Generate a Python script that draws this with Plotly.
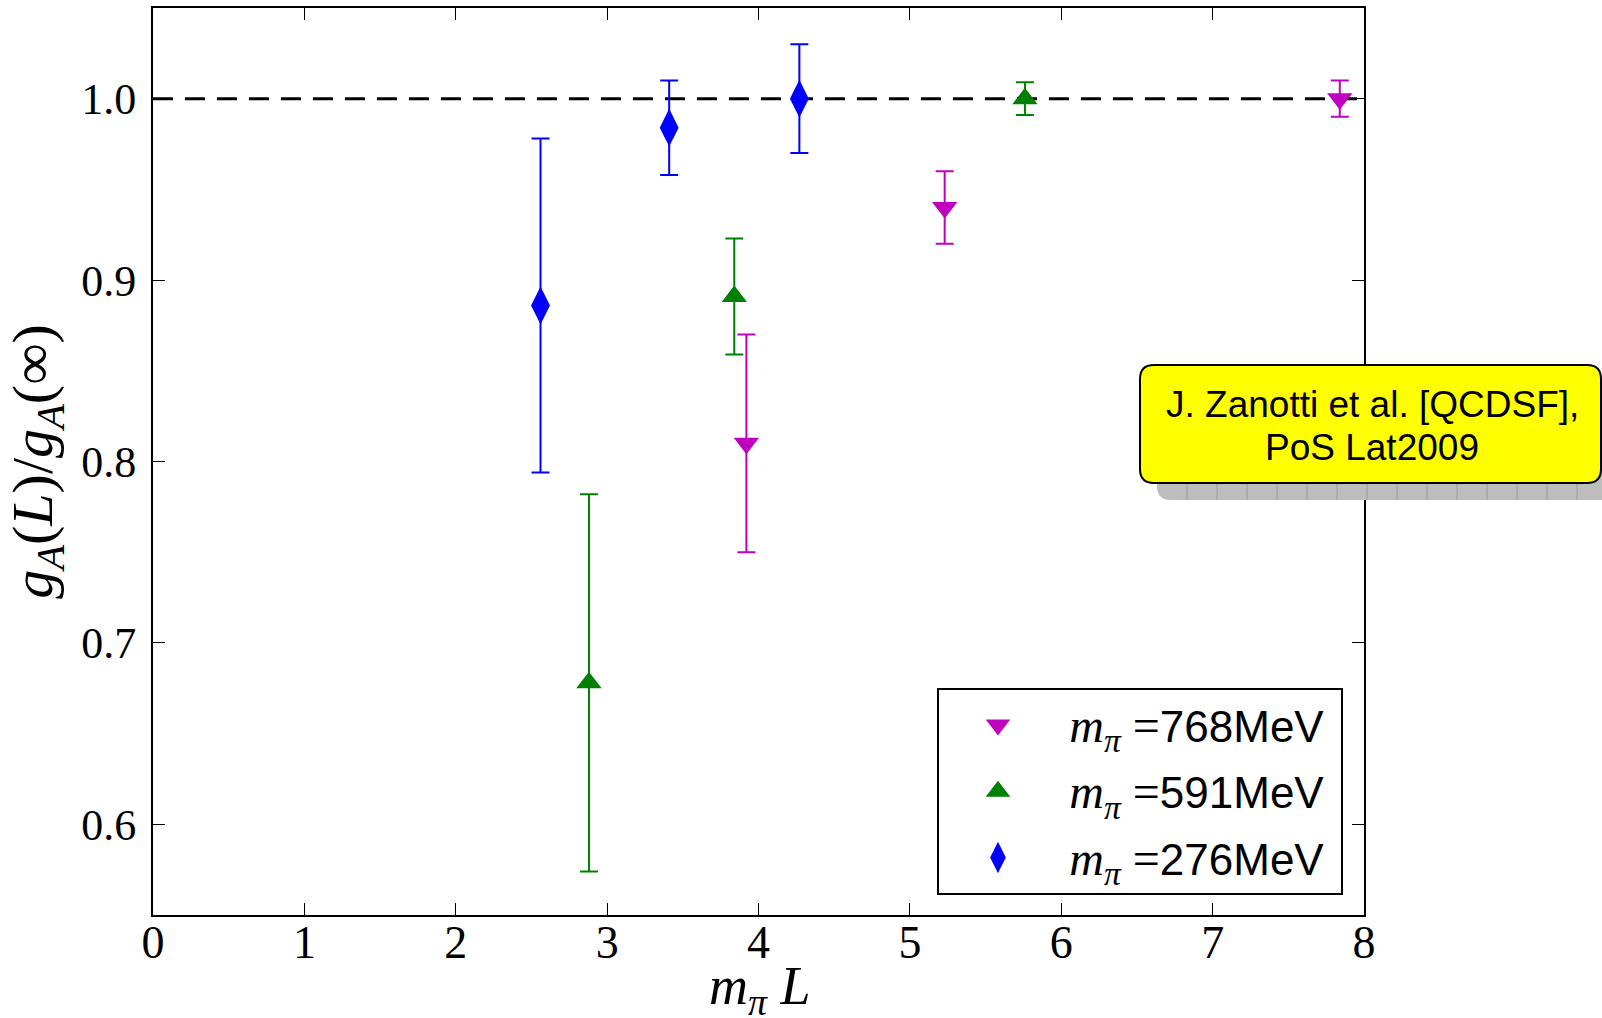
import plotly.graph_objects as go

# Finite-volume ratio g_A(L)/g_A(inf) versus m_pi L for three pion masses
mpiL_768 = [3.92, 5.23, 7.84]
ratio_768 = [0.810, 0.940, 1.000]
err_768 = [0.060, 0.020, 0.010]

mpiL_591 = [2.88, 3.84, 5.76]
ratio_591 = [0.678, 0.891, 1.000]
err_591 = [0.104, 0.032, 0.009]

mpiL_276 = [2.56, 3.41, 4.27]
ratio_276 = [0.886, 0.984, 1.000]
err_276 = [0.092, 0.026, 0.030]

series = [
    ("768", mpiL_768, ratio_768, err_768, "#BF00BF", "triangle-down", 22, 3),
    ("591", mpiL_591, ratio_591, err_591, "#008000", "triangle-up", 22, 3),
    ("276", mpiL_276, ratio_276, err_276, "#0000FF", "diamond-tall", 27, 4),
]

W, H = 1602, 1018
ML, MR, MT, MB = 153, 238, 8, 103
PW, PH = W - ML - MR, H - MT - MB


def px(xp):
    return (xp - ML) / PW


def py(yp):
    return (H - MB - yp) / PH


fig = go.Figure()

# reference line at unity
fig.add_trace(go.Scatter(
    x=[0, 8], y=[1.0, 1.0], mode="lines",
    line=dict(color="black", width=3, dash="20px,12px"),
    showlegend=False, hoverinfo="skip",
))

serif = "Liberation Serif"
for i, (mass, xs, ys, es, col, sym, sz, lw) in enumerate(series):
    label = (f"\u00a0<span style=\"font-family:'{serif}';font-size:48px\"><i>m</i>"
             f"<sub><i>π</i></sub> =</span>{mass}MeV\u00a0")
    fig.add_trace(go.Scatter(
        x=xs, y=ys, mode="markers", legendgroup=f"g{i}", showlegend=False,
        marker=dict(symbol=sym, size=sz, color=col, line=dict(width=0)),
        error_y=dict(type="data", array=es, visible=True, color=col,
                     thickness=2, width=9),
    ))
    # legend entry (outlined so the key symbol reads at full size)
    fig.add_trace(go.Scatter(
        x=[None], y=[None], mode="markers", name=label, legendgroup=f"g{i}",
        marker=dict(symbol=sym, size=16, color=col, line=dict(width=lw, color=col)),
    ))

axis_common = dict(
    showline=True, linewidth=2, linecolor="black", mirror="ticks",
    ticks="inside", ticklen=12, tickwidth=1.2, tickcolor="black",
    showgrid=False, zeroline=False, automargin=False,
)

fig.update_xaxes(
    range=[0, 8], dtick=1, tick0=0,
    tickfont=dict(family=serif, size=46, color="black"),
    ticklabelstandoff=-14,
    **axis_common,
)
fig.update_yaxes(
    range=[0.55, 1.05], dtick=0.1, tick0=0.6, tickformat=".1f",
    tickfont=dict(family=serif, size=44, color="black"),
    ticklabelstandoff=6,
    title=dict(text="<i>g</i><sub><i>A</i></sub>(<i>L</i>)/<i>g</i><sub><i>A</i></sub>(∞)",
               font=dict(family=serif, size=58, color="black"), standoff=10),
    **axis_common,
)

# citation box with drop shadow
bx0, bx1, by0, by1, r = 1140, 1601, 365, 483, 14
off = 17


def rounded(x0, x1, y0, y1, rad):
    a, b = px(x0), px(x1)
    top, bot = py(y0), py(y1)
    rx, ry = rad / PW, rad / PH
    return (f"M{a+rx},{top} L{b-rx},{top} Q{b},{top} {b},{top-ry} "
            f"L{b},{bot+ry} Q{b},{bot} {b-rx},{bot} L{a+rx},{bot} "
            f"Q{a},{bot} {a},{bot+ry} L{a},{top-ry} Q{a},{top} {a+rx},{top} Z")


shapes = [
    dict(type="path", xref="paper", yref="paper", layer="above",
         path=rounded(bx0 + off, bx1 + off, by0 + off, by1 + off, r),
         fillcolor="#BDBDBD", line=dict(width=0)),
]
for k in range(16):
    xl = bx0 + off + 30 + 30 * k
    shapes.append(dict(type="line", xref="paper", yref="paper", layer="above",
                       x0=px(xl), x1=px(xl), y0=py(by1), y1=py(by1 + off),
                       line=dict(color="#9A9A9A", width=1)))
shapes.append(dict(type="path", xref="paper", yref="paper", layer="above",
                   path=rounded(bx0, bx1, by0, by1, r),
                   fillcolor="#FFFF00", line=dict(color="black", width=2)))

citation = ["J. Zanotti et al. [QCDSF],", "PoS Lat2009"]
line_y = [405, 447]
annotations = [
    dict(xref="paper", yref="paper", x=px(1372), y=py(yy), text=t,
         showarrow=False, xanchor="center", yanchor="middle",
         font=dict(family="Liberation Sans", size=37, color="black"))
    for t, yy in zip(citation, line_y)
]
# x-axis title, set just below the tick labels
annotations.append(dict(
    xref="paper", yref="paper", x=px(759), y=py(954), yanchor="top",
    xanchor="center", showarrow=False,
    text="<i>m</i><sub><i>π</i></sub> <i>L</i>",
    font=dict(family=serif, size=54, color="black"),
))

fig.update_layout(
    width=W, height=H,
    margin=dict(l=ML, r=MR, t=MT, b=MB),
    paper_bgcolor="white", plot_bgcolor="white",
    shapes=shapes,
    annotations=annotations,
    legend=dict(
        x=px(1343), y=py(895), xanchor="right", yanchor="bottom",
        bordercolor="black", borderwidth=2, bgcolor="white",
        font=dict(family="Liberation Sans", size=44, color="black"),
        itemwidth=108, tracegroupgap=6, traceorder="grouped",
    ),
)

fig.write_html("out.html")
